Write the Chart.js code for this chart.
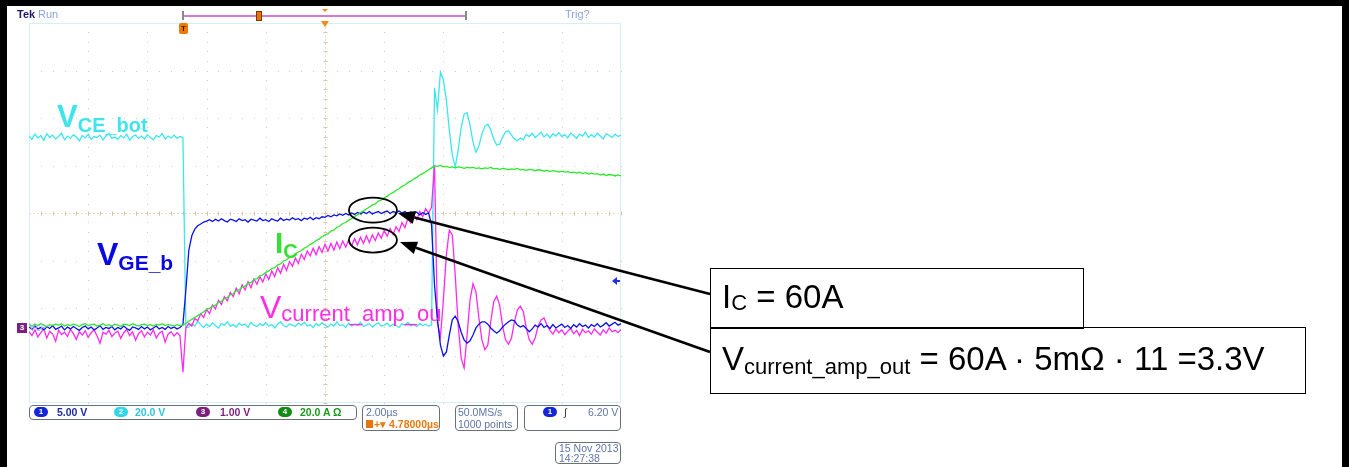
<!DOCTYPE html>
<html>
<head>
<meta charset="utf-8">
<script src="https://cdn.jsdelivr.net/npm/chart.js@4.4.1/dist/chart.umd.min.js"></script>
<style>
  html, body { margin: 0; padding: 0; background: #fff; }
  body { width: 1349px; height: 467px; position: relative; overflow: hidden; font-family: "Liberation Sans", Arial, sans-serif; }
  #scope { position: absolute; left: 0; top: 0; }
  .bar { position: absolute; background: #000; }
  .ui { position: absolute; font-size: 10.5px; color: #5f75a8; line-height: 12px; white-space: nowrap; }
  .box { position: absolute; border: 1px solid #6a6f7a; border-radius: 4px; box-sizing: border-box; }
  .chip { position: absolute; width: 14px; height: 10px; border-radius: 5px; color: #fff; font: bold 8px "Liberation Sans", sans-serif; line-height: 10px; text-align: center; }
  .lbl { position: absolute; white-space: nowrap; line-height: 1; }
  .note { position: absolute; border: 1.5px solid #000; box-sizing: border-box; }
  .tri { position: absolute; width: 0; height: 0; }
</style>
</head>
<body>
<canvas id="scope" width="1349" height="467"></canvas>

<!-- black frame of the pasted screenshot -->
<div class="bar" style="left:0;top:0;width:1349px;height:6px"></div>
<div class="bar" style="left:0;top:0;width:7px;height:467px"></div>
<div class="bar" style="left:1342px;top:0;width:7px;height:467px"></div>

<!-- scope header -->
<div class="ui" style="left:17px;top:8px;font-weight:bold;color:#24166e;font-size:11px">Tek</div>
<div class="ui" style="left:38px;top:8px;color:#8ea4d8;font-size:11px">Run</div>
<div class="ui" style="left:565px;top:8px;color:#8ea4d8;font-size:11px">Trig?</div>
<div style="position:absolute;left:183px;top:15px;width:283px;height:2px;background:#d37ad3"></div>
<div style="position:absolute;left:182px;top:11px;width:2px;height:9px;background:#8a8a8a"></div>
<div style="position:absolute;left:465px;top:11px;width:2px;height:9px;background:#8a8a8a"></div>
<div style="position:absolute;left:256px;top:11px;width:4px;height:8px;background:#e8720e;border:1px solid #7a3a00"></div>
<div class="tri" style="left:322px;top:9px;border-left:3px solid transparent;border-right:3px solid transparent;border-top:3px solid #f08a1a"></div>
<div class="tri" style="left:321px;top:21px;border-left:4px solid transparent;border-right:4px solid transparent;border-top:6px solid #f08a1a"></div>
<div style="position:absolute;left:179px;top:23px;width:9px;height:11px;background:#f07800;border-radius:2px;color:#3a1a00;font:bold 8px 'Liberation Sans';line-height:11px;text-align:center">T</div>

<!-- channel 3 marker at the left edge, ch1 level marker at the right edge -->
<div style="position:absolute;left:17px;top:323px;width:10px;height:10px;background:#7d1f7d;color:#fff;font:bold 8px 'Liberation Sans';line-height:10px;text-align:center">3</div>
<div class="ui" style="left:29px;top:322px;color:#96aad4;font-size:10px">Vce</div>
<div class="tri" style="left:612px;top:277px;border-top:4px solid transparent;border-bottom:4px solid transparent;border-right:5px solid #2030e0"></div>
<div style="position:absolute;left:616px;top:280px;width:4px;height:2px;background:#2030e0"></div>

<!-- trace labels -->
<div class="lbl" style="left:57px;top:101px;color:#3fe4ee;font-weight:bold;font-size:31px">V<span style="font-size:20px;vertical-align:-5px">CE_bot</span></div>
<div class="lbl" style="left:97px;top:238px;color:#0a0ae0;font-weight:bold;font-size:32px">V<span style="font-size:21px;vertical-align:-5px">GE_b</span></div>
<div class="lbl" style="left:275px;top:228px;color:#35e035;font-weight:bold;font-size:30px">I<span style="font-size:20px;vertical-align:-5px">C</span></div>
<div class="lbl" style="left:260px;top:291px;color:#ff2ee6;font-size:32px">V<span style="font-size:22px;vertical-align:-3px">current_amp_ou</span></div>

<!-- status bar -->
<div class="box" style="left:29px;top:405px;width:328px;height:15px"></div>
<div class="chip" style="left:34px;top:407px;background:#1426d8">1</div>
<div class="ui" style="left:57px;top:406px;font-weight:bold;color:#1a2aa8">5.00 V</div>
<div class="chip" style="left:114px;top:407px;background:#32d6e6">2</div>
<div class="ui" style="left:135px;top:406px;font-weight:bold;color:#2ec6d8">20.0 V</div>
<div class="chip" style="left:196px;top:407px;background:#7d1f7d">3</div>
<div class="ui" style="left:220px;top:406px;font-weight:bold;color:#7d1f7d">1.00 V</div>
<div class="chip" style="left:278px;top:407px;background:#128c12">4</div>
<div class="ui" style="left:300px;top:406px;font-weight:bold;color:#1a9a1a">20.0 A &Omega;</div>

<div class="box" style="left:362px;top:405px;width:78px;height:26px"></div>
<div class="ui" style="left:366px;top:406px">2.00&micro;s</div>
<div style="position:absolute;left:366px;top:420px;width:7px;height:8px;background:#e8720e"></div>
<div class="ui" style="left:374px;top:418px;color:#e87a10;font-weight:bold">+&#9662; 4.78000&micro;s</div>

<div class="box" style="left:455px;top:405px;width:63px;height:26px"></div>
<div class="ui" style="left:458px;top:406px">50.0MS/s</div>
<div class="ui" style="left:458px;top:418px">1000 points</div>

<div class="box" style="left:524px;top:405px;width:97px;height:26px"></div>
<div class="chip" style="left:543px;top:407px;background:#1426d8">1</div>
<div class="ui" style="left:564px;top:406px;color:#333">&int;</div>
<div class="ui" style="left:588px;top:406px">6.20 V</div>

<div class="box" style="left:555px;top:442px;width:66px;height:22px"></div>
<div class="ui" style="left:559px;top:442px">15 Nov 2013</div>
<div class="ui" style="left:559px;top:452px">14:27:38</div>

<!-- callout boxes -->
<div class="note" style="left:710px;top:268px;width:374px;height:61px"></div>
<div class="note" style="left:710px;top:327px;width:596px;height:67px"></div>
<div class="lbl" style="left:722px;top:280px;font-size:33px;color:#000">I<span style="font-size:22px;vertical-align:-2px">C</span> = 60A</div>
<div class="lbl" style="left:722px;top:342px;font-size:33px;color:#000">V<span style="font-size:22px;vertical-align:-4px">current_amp_out</span> = 60A &middot; 5m&Omega; &middot; 11 =3.3V</div>

<script>
// sample times (µs from left screen edge), 2 µs/div, 10 divisions
const timeUs = [
  0.0, 0.1, 0.2, 0.3, 0.4, 0.5, 0.6, 0.7, 0.8, 0.9,
  1.0, 1.1, 1.2, 1.3, 1.4, 1.5, 1.6, 1.7, 1.8, 1.9,
  2.0, 2.1, 2.2, 2.3, 2.4, 2.5, 2.6, 2.7, 2.8, 2.9,
  3.0, 3.1, 3.2, 3.3, 3.4, 3.5, 3.6, 3.7, 3.8, 3.9,
  4.0, 4.1, 4.2, 4.3, 4.4, 4.5, 4.6, 4.7, 4.8, 4.9,
  5.0, 5.1, 5.2, 5.3, 5.4, 5.5, 5.6, 5.7, 5.8, 5.9,
  6.0, 6.1, 6.2, 6.3, 6.4, 6.5, 6.6, 6.7, 6.8, 6.9,
  7.0, 7.1, 7.2, 7.3, 7.4, 7.5, 7.6, 7.7, 7.8, 7.9,
  8.0, 8.1, 8.2, 8.3, 8.4, 8.5, 8.6, 8.7, 8.8, 8.9,
  9.0, 9.1, 9.2, 9.3, 9.4, 9.5, 9.6, 9.7, 9.8, 9.9,
  10.0, 10.1, 10.2, 10.3, 10.4, 10.5, 10.6, 10.7, 10.8, 10.9,
  11.0, 11.1, 11.2, 11.3, 11.4, 11.5, 11.6, 11.7, 11.8, 11.9,
  12.0, 12.1, 12.2, 12.3, 12.4, 12.5, 12.6, 12.7, 12.8, 12.9,
  13.0, 13.1, 13.2, 13.3, 13.4, 13.5, 13.6, 13.7, 13.8, 13.9,
  14.0, 14.1, 14.2, 14.3, 14.4, 14.5, 14.6, 14.7, 14.8, 14.9,
  15.0, 15.1, 15.2, 15.3, 15.4, 15.5, 15.6, 15.7, 15.8, 15.9,
  16.0, 16.1, 16.2, 16.3, 16.4, 16.5, 16.6, 16.7, 16.8, 16.9,
  17.0, 17.1, 17.2, 17.3, 17.4, 17.5, 17.6, 17.7, 17.8, 17.9,
  18.0, 18.1, 18.2, 18.3, 18.4, 18.5, 18.6, 18.7, 18.8, 18.9,
  19.0, 19.1, 19.2, 19.3, 19.4, 19.5, 19.6, 19.7, 19.8, 19.9,
  20.0
];

// trace values in screen divisions (0 = centre line)
// ch2, cyan: V_CE_bot
const vceBot = [
  1.62, 1.55, 1.66, 1.58, 1.63, 1.53, 1.67, 1.59, 1.64, 1.56,
  1.61, 1.68, 1.54, 1.62, 1.57, 1.65, 1.60, 1.52, 1.63, 1.58,
  1.66, 1.55, 1.61, 1.59, 1.64, 1.54, 1.62, 1.68, 1.57, 1.60,
  1.55, 1.63, 1.58, 1.66, 1.53, 1.61, 1.64, 1.57, 1.62, 1.56,
  1.65, 1.59, 1.54, 1.63, 1.60, 1.67, 1.56, 1.62, 1.58, 1.64,
  1.57, 1.61, 1.59, -2.42, -2.40, -2.33, -2.38, -2.28, -2.35, -2.41,
  -2.34, -2.39, -2.31, -2.37, -2.42, -2.33, -2.36, -2.29, -2.38, -2.35,
  -2.40, -2.32, -2.37, -2.34, -2.41, -2.30, -2.36, -2.39, -2.33, -2.37,
  -2.31, -2.38, -2.35, -2.42, -2.34, -2.29, -2.37, -2.40, -2.33, -2.36,
  -2.39, -2.32, -2.36, -2.30, -2.38, -2.35, -2.41, -2.33, -2.37, -2.31,
  -2.36, -2.40, -2.34, -2.38, -2.29, -2.37, -2.35, -2.41, -2.32, -2.38,
  -2.34, -2.37, -2.30, -2.39, -2.36, -2.33, -2.40, -2.35, -2.31, -2.38,
  -2.36, -2.32, -2.39, -2.34, -2.37, -2.41, -2.33, -2.36, -2.30, -2.38,
  -2.35, -2.39, -2.33, -2.37, -2.34, -2.38, -2.36, 2.63, 2.17, 2.97,
  2.80, 2.38, 1.75, 1.22, 0.97, 1.33, 1.79, 2.08, 2.11, 1.85,
  1.49, 1.28, 1.41, 1.66, 1.83, 1.87, 1.75, 1.56, 1.43, 1.45,
  1.60, 1.71, 1.73, 1.64, 1.56, 1.52, 1.58, 1.54, 1.66, 1.61,
  1.68, 1.59, 1.64, 1.70, 1.60, 1.66, 1.58, 1.67, 1.62, 1.69,
  1.61, 1.65, 1.58, 1.68, 1.63, 1.57, 1.66, 1.62, 1.70, 1.59,
  1.65, 1.60, 1.68, 1.62, 1.56, 1.67, 1.63, 1.59, 1.66, 1.61,
  1.64
];

// ch4, green: I_C
const icBot = [
  -2.35, -2.38, -2.34, -2.37, -2.33, -2.36, -2.39, -2.35, -2.37, -2.34,
  -2.36, -2.33, -2.38, -2.35, -2.37, -2.34, -2.36, -2.39, -2.35, -2.33,
  -2.37, -2.35, -2.34, -2.38, -2.36, -2.33, -2.37, -2.35, -2.38, -2.34,
  -2.36, -2.39, -2.34, -2.35, -2.37, -2.33, -2.36, -2.38, -2.35, -2.34,
  -2.37, -2.35, -2.38, -2.34, -2.36, -2.33, -2.37, -2.35, -2.36, -2.38,
  -2.35, -2.37, -2.36, -2.32, -2.28, -2.24, -2.20, -2.16, -2.12, -2.08,
  -2.03, -2.01, -1.96, -1.94, -1.88, -1.86, -1.80, -1.78, -1.72, -1.70,
  -1.64, -1.62, -1.56, -1.54, -1.48, -1.46, -1.40, -1.38, -1.33, -1.30,
  -1.25, -1.22, -1.17, -1.15, -1.09, -1.07, -1.01, -0.99, -0.93, -0.91,
  -0.86, -0.82, -0.79, -0.74, -0.71, -0.66, -0.63, -0.58, -0.55, -0.50,
  -0.46, -0.44, -0.38, -0.36, -0.30, -0.28, -0.22, -0.20, -0.15, -0.12,
  -0.07, -0.04, 0.01, 0.04, 0.09, 0.12, 0.17, 0.19, 0.25, 0.27,
  0.32, 0.35, 0.40, 0.43, 0.48, 0.51, 0.56, 0.59, 0.64, 0.67,
  0.72, 0.75, 0.80, 0.83, 0.87, 0.91, 0.95, 0.99, 0.98, 1.00,
  0.97, 0.98, 0.96, 0.97, 0.95, 0.97, 0.96, 0.94, 0.96, 0.95,
  0.96, 0.94, 0.95, 0.93, 0.95, 0.94, 0.96, 0.93, 0.94, 0.92,
  0.94, 0.93, 0.91, 0.93, 0.92, 0.94, 0.91, 0.92, 0.90, 0.92,
  0.91, 0.89, 0.91, 0.90, 0.88, 0.90, 0.87, 0.89, 0.88, 0.86,
  0.88, 0.86, 0.87, 0.85, 0.86, 0.84, 0.86, 0.83, 0.85, 0.82,
  0.84, 0.82, 0.83, 0.80, 0.82, 0.79, 0.81, 0.80, 0.78, 0.80,
  0.78
];

// ch1, blue: V_GE_b
const vgeB = [
  -2.40, -2.45, -2.38, -2.44, -2.41, -2.47, -2.39, -2.43, -2.37, -2.45,
  -2.42, -2.38, -2.46, -2.40, -2.44, -2.39, -2.43, -2.47, -2.41, -2.38,
  -2.44, -2.40, -2.46, -2.42, -2.37, -2.45, -2.41, -2.43, -2.39, -2.46,
  -2.41, -2.44, -2.38, -2.43, -2.47, -2.40, -2.42, -2.45, -2.39, -2.44,
  -2.40, -2.46, -2.42, -2.38, -2.44, -2.41, -2.45, -2.39, -2.43, -2.40,
  -2.44, -2.41, -2.35, -1.62, -0.78, -0.48, -0.34, -0.27, -0.23, -0.19,
  -0.17, -0.14, -0.18, -0.13, -0.17, -0.12, -0.16, -0.19, -0.13, -0.15,
  -0.18, -0.12, -0.16, -0.14, -0.19, -0.13, -0.15, -0.17, -0.11, -0.16,
  -0.14, -0.18, -0.12, -0.15, -0.17, -0.11, -0.16, -0.13, -0.15, -0.10,
  -0.14, -0.12, -0.16, -0.11, -0.13, -0.09, -0.14, -0.10, -0.12, -0.08,
  -0.09, -0.05, -0.08, -0.04, -0.06, -0.02, -0.05, -0.01, -0.04, 0.00,
  -0.03, 0.01, -0.02, 0.02, -0.01, 0.03, -0.02, 0.01, 0.03, -0.01,
  0.02, 0.04, -0.01, 0.03, 0.01, 0.04, 0.00, 0.03, -0.01, 0.02,
  -0.02, 0.02, -0.04, 0.01, -0.03, 0.00, -0.25, -1.52, -2.25, -2.78,
  -3.01, -2.93, -2.57, -2.25, -2.17, -2.29, -2.51, -2.67, -2.74, -2.69,
  -2.57, -2.42, -2.34, -2.29, -2.29, -2.34, -2.42, -2.48, -2.53, -2.48,
  -2.40, -2.34, -2.29, -2.25, -2.27, -2.36, -2.40, -2.37, -2.43, -2.50,
  -2.44, -2.36, -2.40, -2.33, -2.41, -2.37, -2.43, -2.35, -2.42, -2.38,
  -2.34, -2.41, -2.37, -2.43, -2.35, -2.40, -2.33, -2.39, -2.36, -2.42,
  -2.35, -2.39, -2.33, -2.40, -2.36, -2.31, -2.38, -2.34, -2.30, -2.36,
  -2.33
];

// ch3, magenta: V_current_amp_out
const vAmpOut = [
  -2.50, -2.58, -2.46, -2.61, -2.52, -2.44, -2.63, -2.49, -2.55, -2.70,
  -2.47, -2.56, -2.51, -2.60, -2.45, -2.54, -2.66, -2.50, -2.57, -2.48,
  -2.62, -2.52, -2.46, -2.59, -2.74, -2.51, -2.55, -2.47, -2.60, -2.53,
  -2.49, -2.64, -2.52, -2.45, -2.58, -2.50, -2.68, -2.54, -2.48, -2.61,
  -2.51, -2.57, -2.46, -2.63, -2.53, -2.49, -2.72, -2.55, -2.50, -2.59,
  -2.52, -2.58, -3.35, -2.42, -2.32, -2.38, -2.22, -2.27, -2.12, -2.20,
  -2.03, -2.12, -1.94, -2.02, -1.84, -1.93, -1.76, -1.85, -1.67, -1.76,
  -1.58, -1.70, -1.51, -1.62, -1.45, -1.57, -1.39, -1.50, -1.34, -1.45,
  -1.28, -1.40, -1.22, -1.34, -1.15, -1.27, -1.08, -1.21, -1.02, -1.12,
  -0.95, -1.06, -0.87, -0.98, -0.80, -0.90, -0.74, -0.88, -0.71, -0.83,
  -0.66, -0.80, -0.64, -0.78, -0.61, -0.75, -0.59, -0.72, -0.57, -0.69,
  -0.54, -0.67, -0.51, -0.64, -0.48, -0.62, -0.46, -0.58, -0.42, -0.53,
  -0.37, -0.49, -0.33, -0.45, -0.29, -0.39, -0.20, -0.31, -0.11, -0.21,
  -0.04, -0.14, 0.03, -0.08, 0.09, 0.00, 0.12, 1.01, -2.32, -2.61,
  -1.83, -0.88, -0.36, -0.46, -1.31, -2.36, -3.05, -3.26, -2.57, -1.83,
  -1.49, -1.66, -2.21, -2.67, -2.88, -2.78, -2.29, -1.87, -1.75, -1.94,
  -2.38, -2.67, -2.76, -2.63, -2.29, -2.04, -1.96, -2.08, -2.42, -2.67,
  -2.76, -2.63, -2.38, -2.25, -2.21, -2.36, -2.47, -2.55, -2.44, -2.52,
  -2.46, -2.56, -2.49, -2.43, -2.54, -2.47, -2.58, -2.45, -2.52, -2.48,
  -2.55, -2.44, -2.51, -2.57, -2.46, -2.53, -2.42, -2.50, -2.47, -2.52,
  -2.45
];

// graticule lines
const gridTimes = [0, 2, 4, 6, 8, 10, 12, 14, 16, 18, 20];
const gridDivs = [-4, -3, -2, -1, 0, 1, 2, 3, 4];

const graticule = {
  id: 'graticule',
  beforeDatasetsDraw(chart) {
    const { ctx, chartArea: a, scales: { x, y } } = chart;
    ctx.save();
    // dotted division lines
    ctx.fillStyle = '#cfcfcf';
    gridTimes.forEach(t => {
      if (t === 0 || t === 10 || t === 20) return;
      const px = Math.round(x.getPixelForValue(t));
      for (let k = 0; k <= 40; k++) ctx.fillRect(px, Math.round(y.getPixelForValue(-4 + k * 0.2)), 1, 1);
    });
    gridDivs.forEach(v => {
      if (v === 0 || Math.abs(v) === 4) return;
      const py = Math.round(y.getPixelForValue(v));
      for (let k = 0; k <= 50; k++) ctx.fillRect(Math.round(x.getPixelForValue(k * 0.4)), py, 1, 1);
    });
    // centre cross
    const cx = Math.round(x.getPixelForValue(10)) + 0.5;
    const cy = Math.round(y.getPixelForValue(0)) + 0.5;
    ctx.strokeStyle = '#ecdcc8';
    ctx.lineWidth = 1;
    ctx.setLineDash([2, 2]);
    ctx.beginPath();
    ctx.moveTo(cx, a.top); ctx.lineTo(cx, a.bottom);
    ctx.moveTo(a.left, cy); ctx.lineTo(a.right, cy);
    ctx.stroke();
    ctx.setLineDash([]);
    ctx.strokeStyle = '#dcc2a0';
    ctx.beginPath();
    for (let k = 0; k <= 40; k++) {
      const py = Math.round(y.getPixelForValue(-4 + k * 0.2)) + 0.5;
      ctx.moveTo(cx - 2, py); ctx.lineTo(cx + 2, py);
    }
    for (let k = 0; k <= 50; k++) {
      const px = Math.round(x.getPixelForValue(k * 0.4)) + 0.5;
      ctx.moveTo(px, cy - 2); ctx.lineTo(px, cy + 2);
    }
    ctx.stroke();
    // outline
    ctx.strokeStyle = '#d6eef6';
    ctx.strokeRect(a.left + 0.5, a.top + 0.5, a.width - 1, a.height - 1);
    ctx.restore();
  }
};

const callouts = {
  id: 'callouts',
  afterDatasetsDraw(chart) {
    const { ctx, scales: { x, y } } = chart;
    const marks = [
      { t: 11.62, v: 0.06, tip: [25, 3], tail: [710, 294] },
      { t: 11.62, v: -0.57, tip: [27, 2], tail: [710, 352] }
    ];
    ctx.save();
    ctx.strokeStyle = '#000';
    ctx.fillStyle = '#000';
    marks.forEach(m => {
      const cx = x.getPixelForValue(m.t);
      const cy = y.getPixelForValue(m.v);
      ctx.lineWidth = 1.8;
      ctx.beginPath();
      ctx.ellipse(cx, cy, 24, 12.5, 0, 0, Math.PI * 2);
      ctx.stroke();
      const tx = cx + m.tip[0], ty = cy + m.tip[1];
      const [sx, sy] = m.tail;
      const ang = Math.atan2(ty - sy, tx - sx);
      const len = 17, half = 6.5;
      const bx = tx - len * Math.cos(ang), by = ty - len * Math.sin(ang);
      ctx.lineWidth = 2.6;
      ctx.beginPath();
      ctx.moveTo(sx, sy); ctx.lineTo(bx, by);
      ctx.stroke();
      ctx.beginPath();
      ctx.moveTo(tx, ty);
      ctx.lineTo(bx + half * Math.sin(ang), by - half * Math.cos(ang));
      ctx.lineTo(bx - half * Math.sin(ang), by + half * Math.cos(ang));
      ctx.closePath();
      ctx.fill();
    });
    ctx.restore();
  }
};

const ctx = document.getElementById('scope').getContext('2d');
const scopeChart = new Chart(ctx, {
  type: 'line',
  data: {
    labels: timeUs,
    datasets: [
      { label: 'I_C', data: icBot, borderColor: '#2fe62f' },
      { label: 'V_GE_b', data: vgeB, borderColor: '#0c12e8' },
      { label: 'V_current_amp_out', data: vAmpOut, borderColor: '#ff2af0' },
      { label: 'V_CE_bot', data: vceBot, borderColor: '#3ce6f0' }
    ]
  },
  options: {
    responsive: false,
    animation: false,
    layout: { padding: { left: 29, top: 23, right: 728, bottom: 64 } },
    elements: {
      point: { radius: 0 },
      line: { borderWidth: 1.3, tension: 0 }
    },
    plugins: {
      legend: { display: false },
      tooltip: { enabled: false }
    },
    scales: {
      x: { type: 'linear', min: 0, max: 20, display: false },
      y: { type: 'linear', min: -4, max: 4, display: false }
    }
  },
  plugins: [graticule, callouts]
});
</script>
</body>
</html>
